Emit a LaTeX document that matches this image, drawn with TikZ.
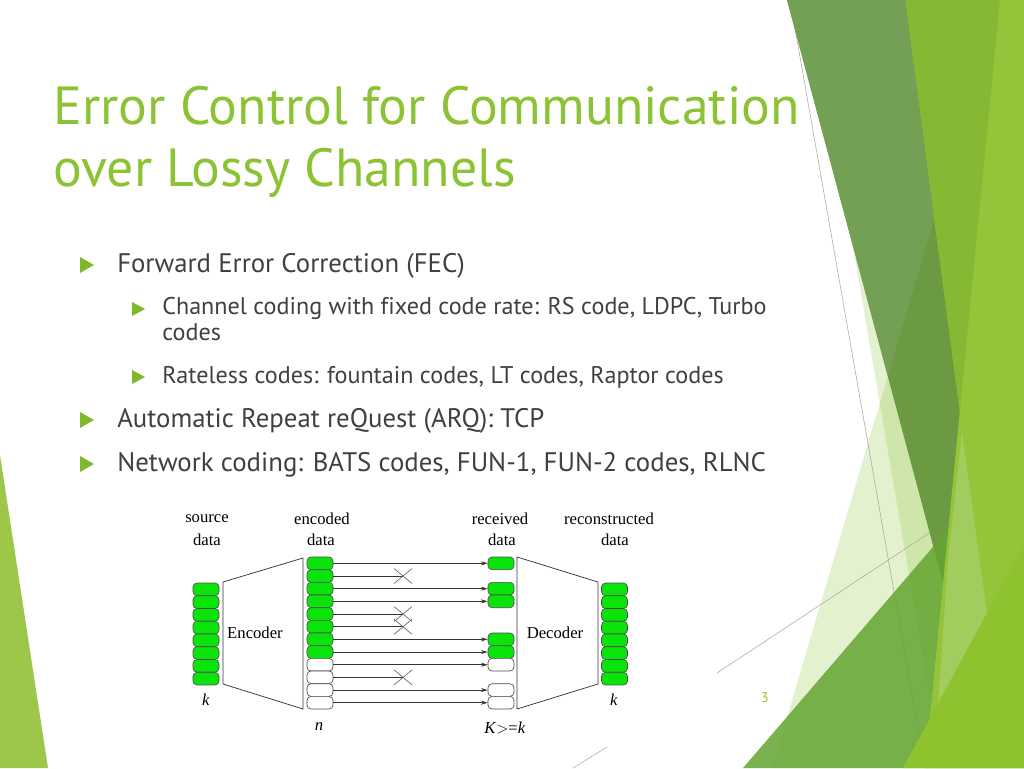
\documentclass[tikz,border=0pt]{standalone}
\usepackage{fontspec}
\setmainfont[Ligatures=NoCommon]{PT Sans}
\newfontfamily\figfont{Liberation Serif}
\usetikzlibrary{arrows.meta}
\definecolor{titlegreen}{RGB}{140,195,52}
\definecolor{bodygray}{RGB}{64,64,64}
\definecolor{bulletgreen}{RGB}{126,185,45}
\definecolor{blockgreen}{RGB}{10,228,10}
\definecolor{leftgreen}{RGB}{157,199,72}
\definecolor{palegreen}{RGB}{146,200,62}
\definecolor{midband}{RGB}{134,184,51}
\definecolor{darkband}{RGB}{107,154,67}
\definecolor{darklite}{RGB}{115,160,85}
\definecolor{rightgreen}{RGB}{148,196,58}
\definecolor{lowgreen}{RGB}{100,165,50}
\definecolor{brightgreen}{RGB}{143,194,47}
\definecolor{lightband}{RGB}{166,206,104}
\definecolor{pagenum}{RGB}{160,190,40}
\begin{document}
\begin{tikzpicture}[x=0.75pt,y=-0.75pt,
  blk/.style={draw=black!70, line width=0.5pt, rounded corners=3pt,
    minimum width=19.5pt, minimum height=9.5pt, inner sep=0pt},
  gblk/.style={blk, fill=blockgreen},
  wblk/.style={blk, fill=white},
  conn/.style={draw=black!80, line width=0.55pt},
  arr/.style={conn, -{Stealth[length=5pt,width=3pt]}},
  crossmark/.style={draw=black!60, line width=0.5pt},
  trap/.style={draw=black!80, line width=0.55pt},
  figtext/.style={font=\figfont\fontsize{12.5}{14}\selectfont, inner sep=0pt},
  title/.style={font=\fontsize{40.3}{46}\selectfont, text=titlegreen, anchor=base west, inner sep=0pt},
  lvlone/.style={font=\fontsize{20.1}{24}\selectfont, text=bodygray, anchor=base west, inner sep=0pt},
  lvltwo/.style={font=\fontsize{18.1}{21}\selectfont, text=bodygray, anchor=base west, inner sep=0pt},
  bulletone/.style={fill=bulletgreen},
  thinline/.style={draw=black!35, line width=0.4pt}
]
\useasboundingbox (0,0) rectangle (1024,768);
\fill[white] (0,0) rectangle (1024,768);

% ---- background decoration ----
\fill[leftgreen] (0,455) -- (48,768) -- (0,768) -- cycle;
\fill[palegreen, opacity=0.25] (811,0) -- (1024,0) -- (1024,768) -- (942,768) -- cycle;
\fill[palegreen, opacity=0.25] (999,0) -- (1024,0) -- (1024,768) -- (772,768) -- cycle;
\draw[thinline] (790,0) -- (925,768);
\draw[thinline] (717,673) -- (952,518);
\fill[midband] (905,0) -- (1024,0) -- (1024,300) -- (950,590) -- cycle;
\fill[darkband] (787,0) -- (905,0) -- (962,430) -- (945,590) -- cycle;
\fill[darklite] (787,0) -- (905,0) -- (934,219) -- (888,376) -- cycle;
\fill[lowgreen, opacity=0.85] (743,768) -- (1024,441) -- (1024,768) -- cycle;
\fill[rightgreen] (1000,0) -- (1024,0) -- (1024,768) -- (925,768) -- cycle;
\fill[lightband, opacity=0.8] (962,432) -- (987,613) -- (938,705) -- (948,560) -- cycle;
\fill[brightgreen] (903,768) -- (1024,545) -- (1024,768) -- cycle;
\draw[thinline] (573,768) -- (607,747);

% ---- title ----
\node[title] (t1) at (53,124) {Error Control for Communication};
\node[title] (t2) at (53,186) {over Lossy Channels};

% ---- bullets ----
\fill[bulletone] (80,257) -- (94,265) -- (80,273) -- cycle;
\node[lvlone] (b1) at (117,272) {Forward Error Correction (FEC)};
\fill[bulletone] (132,302) -- (145,309) -- (132,316) -- cycle;
\node[lvltwo] (b11) at (162,314) {Channel coding with fixed code rate: RS code, LDPC, Turbo};
\node[lvltwo] (b11b) at (162,340) {codes};
\fill[bulletone] (132,370) -- (145,377) -- (132,384) -- cycle;
\node[lvltwo] (b12) at (162,383) {Rateless codes: fountain codes, LT codes, Raptor codes};
\fill[bulletone] (80,412) -- (94,420) -- (80,428) -- cycle;
\node[lvlone] (b2) at (117,427) {Automatic Repeat reQuest (ARQ): TCP};
\fill[bulletone] (80,456) -- (94,464) -- (80,472) -- cycle;
\node[lvlone] (b3) at (117,471) {Network coding: BATS codes, FUN-1, FUN-2 codes, RLNC};

% ---- diagram ----
\node[figtext] (ls1) at (207,519) {source};
\node[figtext] (ls2) at (207,540) {data};
\node[figtext] (le1) at (322,519) {encoded};
\node[figtext] (le2) at (321,540) {data};
\node[figtext] (lr1) at (500,519) {received};
\node[figtext] (lr2) at (502,540) {data};
\node[figtext] (lc1) at (609,519) {reconstructed};
\node[figtext] (lc2) at (615,540) {data};

\draw[trap] (223,582) -- (303,558) -- (303,709) -- (223,684) -- cycle;
\draw[trap] (517,557) -- (598,582) -- (598,684) -- (517,709) -- cycle;
\node[figtext] (enc) at (255,633) {Encoder};
\node[figtext] (dec) at (555,633) {Decoder};

\foreach \i in {1,...,8}
  \node[gblk] (s\i) at (206,{583+(\i-0.5)*12.75}) {};
\foreach \i in {1,...,8}
  \node[gblk] (d\i) at (614.5,{583+(\i-0.5)*12.75}) {};
\foreach \i/\st in {1/gblk,2/gblk,3/gblk,4/gblk,5/gblk,6/gblk,7/gblk,8/gblk,9/wblk,10/wblk,11/wblk,12/wblk}
  \node[\st] (e\i) at (320,{557+(\i-0.5)*12.67}) {};
\foreach \i/\st in {1/gblk,3/gblk,4/gblk,7/gblk,8/gblk,9/wblk,11/wblk,12/wblk}
  \node[\st] (r\i) at (501,{557+(\i-0.5)*12.67}) {};

\foreach \i in {1,3,4,7,8,9,11,12}
  \draw[arr] (e\i.east) -- (r\i.west);
\foreach \i in {2,5,6,10} {
  \coordinate (x\i) at (403,{557+(\i-0.5)*12.67});
  \draw[conn] (e\i.east) -- (x\i);
  \draw[crossmark] ([shift={(-9,-7.5)}]x\i) -- ([shift={(9,7.5)}]x\i);
  \draw[crossmark] ([shift={(-9,7.5)}]x\i) -- ([shift={(9,-7.5)}]x\i);
}

\node[figtext] (kl) at (206,700) {\textit{k}};
\node[figtext] (nl) at (319,727) {\textit{n}};
\node[figtext] (Kl) at (505,728) {\textit{K}$>$=\textit{k}};
\node[figtext] (kr) at (614,700) {\textit{k}};

\node[font=\fontsize{10.5}{12}\selectfont, text=pagenum, inner sep=0pt] (pg) at (765,698) {3};
\end{tikzpicture}
\end{document}
